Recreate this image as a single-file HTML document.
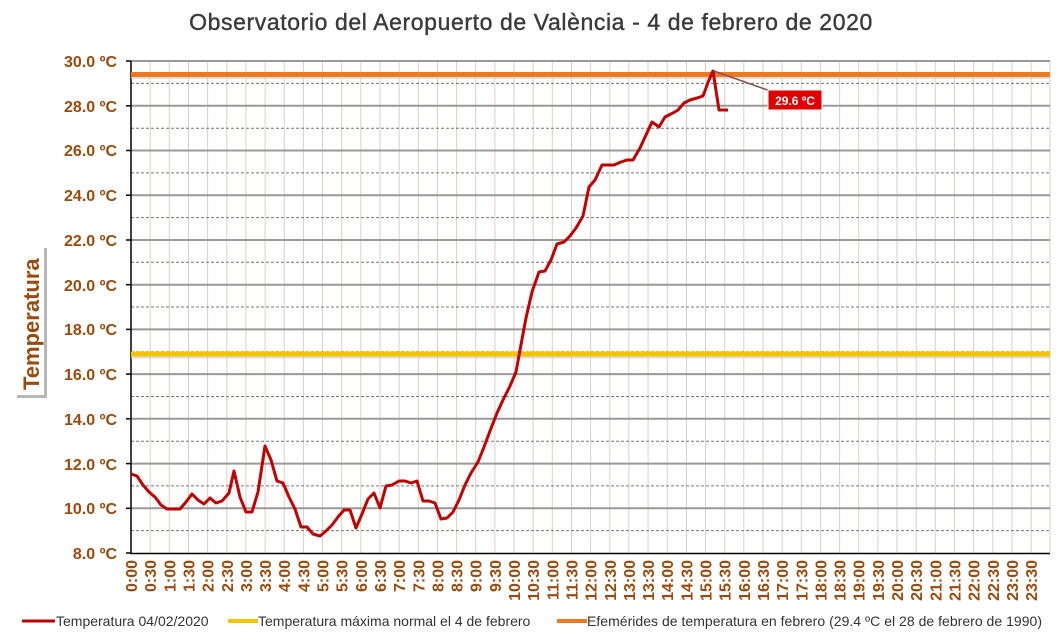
<!DOCTYPE html>
<html><head><meta charset="utf-8"><style>
body{margin:0;background:#fff;}
svg{display:block;font-family:"Liberation Sans",sans-serif;}
</style></head><body>
<svg width="1062" height="637" viewBox="0 0 1062 637" xmlns="http://www.w3.org/2000/svg">
<rect width="1062" height="637" fill="#fff"/>
<text x="531" y="30" text-anchor="middle" font-size="23" fill="#3a3a3a" stroke="#3a3a3a" stroke-width="0.4" letter-spacing="0.6">Observatorio del Aeropuerto de València - 4 de febrero de 2020</text>
<g stroke="#d9d2c2" stroke-width="1">
<line x1="150.2" y1="61" x2="150.2" y2="553"/><line x1="169.3" y1="61" x2="169.3" y2="553"/><line x1="188.5" y1="61" x2="188.5" y2="553"/><line x1="207.6" y1="61" x2="207.6" y2="553"/><line x1="226.8" y1="61" x2="226.8" y2="553"/><line x1="245.9" y1="61" x2="245.9" y2="553"/><line x1="265.1" y1="61" x2="265.1" y2="553"/><line x1="284.2" y1="61" x2="284.2" y2="553"/><line x1="303.4" y1="61" x2="303.4" y2="553"/><line x1="322.5" y1="61" x2="322.5" y2="553"/><line x1="341.7" y1="61" x2="341.7" y2="553"/><line x1="360.8" y1="61" x2="360.8" y2="553"/><line x1="380" y1="61" x2="380" y2="553"/><line x1="399.1" y1="61" x2="399.1" y2="553"/><line x1="418.3" y1="61" x2="418.3" y2="553"/><line x1="437.4" y1="61" x2="437.4" y2="553"/><line x1="456.6" y1="61" x2="456.6" y2="553"/><line x1="475.7" y1="61" x2="475.7" y2="553"/><line x1="494.9" y1="61" x2="494.9" y2="553"/><line x1="514" y1="61" x2="514" y2="553"/><line x1="533.2" y1="61" x2="533.2" y2="553"/><line x1="552.3" y1="61" x2="552.3" y2="553"/><line x1="571.5" y1="61" x2="571.5" y2="553"/><line x1="590.6" y1="61" x2="590.6" y2="553"/><line x1="609.8" y1="61" x2="609.8" y2="553"/><line x1="628.9" y1="61" x2="628.9" y2="553"/><line x1="648.1" y1="61" x2="648.1" y2="553"/><line x1="667.2" y1="61" x2="667.2" y2="553"/><line x1="686.4" y1="61" x2="686.4" y2="553"/><line x1="705.5" y1="61" x2="705.5" y2="553"/><line x1="724.7" y1="61" x2="724.7" y2="553"/><line x1="743.8" y1="61" x2="743.8" y2="553"/><line x1="763" y1="61" x2="763" y2="553"/><line x1="782.1" y1="61" x2="782.1" y2="553"/><line x1="801.3" y1="61" x2="801.3" y2="553"/><line x1="820.4" y1="61" x2="820.4" y2="553"/><line x1="839.6" y1="61" x2="839.6" y2="553"/><line x1="858.7" y1="61" x2="858.7" y2="553"/><line x1="877.9" y1="61" x2="877.9" y2="553"/><line x1="897" y1="61" x2="897" y2="553"/><line x1="916.2" y1="61" x2="916.2" y2="553"/><line x1="935.3" y1="61" x2="935.3" y2="553"/><line x1="954.5" y1="61" x2="954.5" y2="553"/><line x1="973.6" y1="61" x2="973.6" y2="553"/><line x1="992.8" y1="61" x2="992.8" y2="553"/><line x1="1011.9" y1="61" x2="1011.9" y2="553"/><line x1="1031.1" y1="61" x2="1031.1" y2="553"/><line x1="1050" y1="61" x2="1050" y2="553"/>
</g>
<g stroke="#777" stroke-width="1" stroke-dasharray="3,2">
<line x1="131" y1="530.6" x2="1050" y2="530.6"/><line x1="131" y1="485.9" x2="1050" y2="485.9"/><line x1="131" y1="441.2" x2="1050" y2="441.2"/><line x1="131" y1="396.5" x2="1050" y2="396.5"/><line x1="131" y1="351.8" x2="1050" y2="351.8"/><line x1="131" y1="307" x2="1050" y2="307"/><line x1="131" y1="262.3" x2="1050" y2="262.3"/><line x1="131" y1="217.6" x2="1050" y2="217.6"/><line x1="131" y1="172.9" x2="1050" y2="172.9"/><line x1="131" y1="128.2" x2="1050" y2="128.2"/><line x1="131" y1="83.4" x2="1050" y2="83.4"/>
</g>
<g stroke="#999" stroke-width="2">
<line x1="131" y1="508.3" x2="1050" y2="508.3"/><line x1="131" y1="463.6" x2="1050" y2="463.6"/><line x1="131" y1="418.8" x2="1050" y2="418.8"/><line x1="131" y1="374.1" x2="1050" y2="374.1"/><line x1="131" y1="329.4" x2="1050" y2="329.4"/><line x1="131" y1="284.7" x2="1050" y2="284.7"/><line x1="131" y1="240" x2="1050" y2="240"/><line x1="131" y1="195.2" x2="1050" y2="195.2"/><line x1="131" y1="150.5" x2="1050" y2="150.5"/><line x1="131" y1="105.8" x2="1050" y2="105.8"/><line x1="131" y1="61" x2="1050" y2="61"/>
</g>
<g stroke="#000" stroke-width="1.5">
<line x1="131" y1="61" x2="131" y2="554"/><line x1="130" y1="553.5" x2="1050" y2="553.5"/>
<line x1="126" y1="61" x2="131" y2="61"/><line x1="126" y1="105.8" x2="131" y2="105.8"/><line x1="126" y1="150.5" x2="131" y2="150.5"/><line x1="126" y1="195.2" x2="131" y2="195.2"/><line x1="126" y1="240" x2="131" y2="240"/><line x1="126" y1="284.7" x2="131" y2="284.7"/><line x1="126" y1="329.4" x2="131" y2="329.4"/><line x1="126" y1="374.1" x2="131" y2="374.1"/><line x1="126" y1="418.8" x2="131" y2="418.8"/><line x1="126" y1="463.6" x2="131" y2="463.6"/><line x1="126" y1="508.3" x2="131" y2="508.3"/><line x1="126" y1="553" x2="131" y2="553"/>
</g>
<line x1="131" y1="77" x2="1050" y2="77" stroke="#ccc" stroke-width="4" opacity="0.6"/>
<line x1="131" y1="74.5" x2="1050" y2="74.5" stroke="#f07820" stroke-width="5"/>
<line x1="131" y1="356.5" x2="1050" y2="356.5" stroke="#ccc" stroke-width="4" opacity="0.6"/>
<line x1="131" y1="354" x2="1050" y2="354" stroke="#f5c400" stroke-width="5"/>
<polyline fill="none" stroke="#c00000" stroke-width="3" stroke-linejoin="round" points="131,474 137,476 143,485 149,492 155,497 161,505 167,509 173,509 180,509 186,502 192,494 198,500 204,504 210,498 216,503 222,501 229,493 234,471 240,497 246,512 252,512 258,492 265,446 271,460 277,481 283,483 289,497 295,509 301,527 307,527 313,534 320,536 326,531 332,525 338,517 344,510 350,510 356,528 362,514 368,499 374,493 380,508 386,486 392,485 399,481 405,481 411,483 417,481 423,501 429,501 435,503 441,519 447,518 453,512 459,500 465,485 471,473 478,462 484,447 490,431 497,413 503,400 510,386 516,372 520,350 526,318 532,292 539,272 545,271 551,260 557,244 564,242 570,236 576,228 583,216 589,187 595,180 602,165 608,165 614,165 621,162 627,160 633,160 640,148 646,135 652,122 659,127 665,117 671,114 678,110 684,103 690,100 697,98 703,96 709,80 713,71 719,110 728,110"/>
<line x1="714" y1="71" x2="790" y2="98" stroke="#8a5050" stroke-width="1.5"/>
<rect x="768" y="90" width="54" height="20" fill="#e00000" stroke="#fff" stroke-width="1"/>
<text x="795" y="105" text-anchor="middle" font-size="12" font-weight="bold" fill="#fff">29.6 ºC</text>
<g font-size="16" font-weight="bold" fill="#9c4a0c" text-anchor="end">
<text x="117" y="67">30.0 ºC</text><text x="117" y="112">28.0 ºC</text><text x="117" y="156">26.0 ºC</text><text x="117" y="201">24.0 ºC</text><text x="117" y="246">22.0 ºC</text><text x="117" y="291">20.0 ºC</text><text x="117" y="335">18.0 ºC</text><text x="117" y="380">16.0 ºC</text><text x="117" y="425">14.0 ºC</text><text x="117" y="470">12.0 ºC</text><text x="117" y="514">10.0 ºC</text><text x="117" y="559">8.0 ºC</text>
</g>
<rect x="17" y="248" width="30" height="150" fill="#999" opacity="0.7"/>
<rect x="14" y="245" width="30" height="150" fill="#fff"/>
<text transform="translate(39,390) rotate(-90)" font-size="22" font-weight="bold" fill="#9c4a0c">Temperatura</text>
<g font-size="16" font-weight="bold" fill="#9c4a0c" text-anchor="end">
<text transform="translate(137,560) rotate(-90)">0:00</text><text transform="translate(156.2,560) rotate(-90)">0:30</text><text transform="translate(175.3,560) rotate(-90)">1:00</text><text transform="translate(194.5,560) rotate(-90)">1:30</text><text transform="translate(213.6,560) rotate(-90)">2:00</text><text transform="translate(232.8,560) rotate(-90)">2:30</text><text transform="translate(251.9,560) rotate(-90)">3:00</text><text transform="translate(271.1,560) rotate(-90)">3:30</text><text transform="translate(290.2,560) rotate(-90)">4:00</text><text transform="translate(309.4,560) rotate(-90)">4:30</text><text transform="translate(328.5,560) rotate(-90)">5:00</text><text transform="translate(347.7,560) rotate(-90)">5:30</text><text transform="translate(366.8,560) rotate(-90)">6:00</text><text transform="translate(386,560) rotate(-90)">6:30</text><text transform="translate(405.1,560) rotate(-90)">7:00</text><text transform="translate(424.3,560) rotate(-90)">7:30</text><text transform="translate(443.4,560) rotate(-90)">8:00</text><text transform="translate(462.6,560) rotate(-90)">8:30</text><text transform="translate(481.7,560) rotate(-90)">9:00</text><text transform="translate(500.9,560) rotate(-90)">9:30</text><text transform="translate(520,560) rotate(-90)">10:00</text><text transform="translate(539.2,560) rotate(-90)">10:30</text><text transform="translate(558.3,560) rotate(-90)">11:00</text><text transform="translate(577.5,560) rotate(-90)">11:30</text><text transform="translate(596.6,560) rotate(-90)">12:00</text><text transform="translate(615.8,560) rotate(-90)">12:30</text><text transform="translate(634.9,560) rotate(-90)">13:00</text><text transform="translate(654.1,560) rotate(-90)">13:30</text><text transform="translate(673.2,560) rotate(-90)">14:00</text><text transform="translate(692.4,560) rotate(-90)">14:30</text><text transform="translate(711.5,560) rotate(-90)">15:00</text><text transform="translate(730.7,560) rotate(-90)">15:30</text><text transform="translate(749.8,560) rotate(-90)">16:00</text><text transform="translate(769,560) rotate(-90)">16:30</text><text transform="translate(788.1,560) rotate(-90)">17:00</text><text transform="translate(807.3,560) rotate(-90)">17:30</text><text transform="translate(826.4,560) rotate(-90)">18:00</text><text transform="translate(845.6,560) rotate(-90)">18:30</text><text transform="translate(864.7,560) rotate(-90)">19:00</text><text transform="translate(883.9,560) rotate(-90)">19:30</text><text transform="translate(903,560) rotate(-90)">20:00</text><text transform="translate(922.2,560) rotate(-90)">20:30</text><text transform="translate(941.3,560) rotate(-90)">21:00</text><text transform="translate(960.5,560) rotate(-90)">21:30</text><text transform="translate(979.6,560) rotate(-90)">22:00</text><text transform="translate(998.8,560) rotate(-90)">22:30</text><text transform="translate(1017.9,560) rotate(-90)">23:00</text><text transform="translate(1037.1,560) rotate(-90)">23:30</text>
</g>
<g font-size="14" fill="#333">
<line x1="22" y1="621" x2="55" y2="621" stroke="#c00000" stroke-width="3"/>
<text x="56" y="626">Temperatura 04/02/2020</text>
<line x1="228" y1="621" x2="258" y2="621" stroke="#f5c400" stroke-width="4"/>
<text x="258" y="626">Temperatura máxima normal el 4 de febrero</text>
<line x1="557" y1="621" x2="587" y2="621" stroke="#f07820" stroke-width="4"/>
<text x="587" y="626" textLength="455">Efemérides de temperatura en febrero (29.4 ºC el 28 de febrero de 1990)</text>
</g>
</svg>
</body></html>
